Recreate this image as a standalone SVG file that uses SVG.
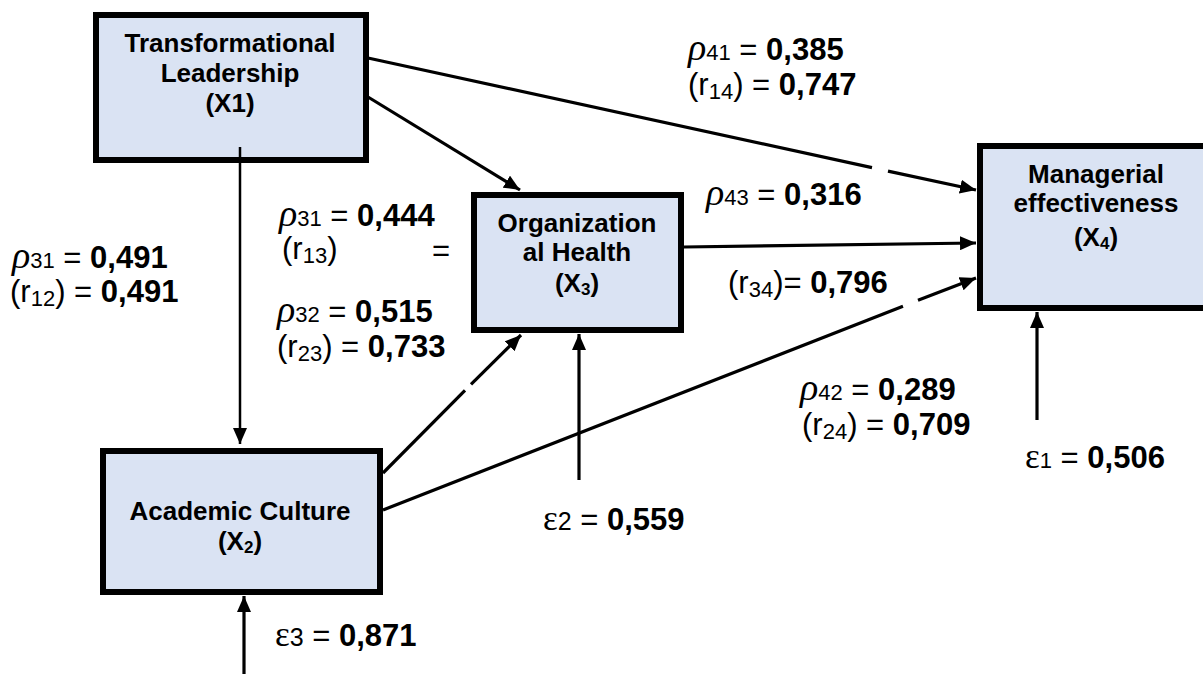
<svg xmlns="http://www.w3.org/2000/svg" width="1203" height="674" viewBox="0 0 1203 674">
<style>
.box{fill:#dae3f3;stroke:#000;stroke-width:6}
.nt{font-family:"Liberation Sans",Arial,sans-serif;font-weight:bold;font-size:26px;text-anchor:middle;fill:#000}
.lab{font-family:"Liberation Sans",Arial,sans-serif;font-size:31px;fill:#000}
.b{font-weight:bold}
.sm{font-size:22px}
.rho{font-family:"Liberation Serif","DejaVu Serif",serif;font-style:italic;font-size:38px}
.eps{font-family:"Liberation Serif","DejaVu Serif",serif;font-size:35px}
.ln{stroke:#000;stroke-width:3.2;fill:none}
.thin{stroke-width:2.5}
.arr{marker-end:url(#ah)}
</style>
<defs>
<marker id="ah" viewBox="0 0 16 14" refX="16" refY="7" markerWidth="16" markerHeight="14" markerUnits="userSpaceOnUse" orient="auto">
<path d="M0,0 L16,7 L0,14 z" fill="#000"/>
</marker>
</defs>

<g id="node-x1">
<rect class="box" x="96" y="15" width="270" height="145"/>
<text class="nt" x="230" y="52">Transformational</text>
<text class="nt" x="230" y="82">Leadership</text>
<text class="nt" x="230" y="112">(X1)</text>
</g>

<g id="node-x3">
<rect class="box" x="474" y="195" width="207" height="135"/>
<text class="nt" x="577" y="232">Organization</text>
<text class="nt" x="577" y="261">al Health</text>
<text class="nt" x="577" y="292">(X<tspan font-size="17px" dy="3">3</tspan><tspan dy="-3">)</tspan></text>
</g>

<g id="node-x4">
<rect class="box" x="980" y="146" width="240" height="162"/>
<text class="nt" x="1096" y="183">Managerial</text>
<text class="nt" x="1096" y="212">effectiveness</text>
<text class="nt" x="1096" y="246">(X<tspan font-size="17px" dy="3">4</tspan><tspan dy="-3">)</tspan></text>
</g>

<g id="node-x2">
<rect class="box" x="103" y="451" width="277" height="141"/>
<text class="nt" x="240" y="520">Academic Culture</text>
<text class="nt" x="240" y="550">(X<tspan font-size="17px" dy="3">2</tspan><tspan dy="-3">)</tspan></text>
</g>

<g id="connectors">
<line class="ln thin arr" x1="240" y1="147" x2="240" y2="444"/>
<line class="ln arr" x1="368" y1="97" x2="520" y2="190"/>
<line class="ln" x1="368" y1="58" x2="872" y2="167.6"/>
<line class="ln arr" x1="888" y1="171.1" x2="976" y2="190"/>
<line class="ln arr" x1="684" y1="247" x2="976" y2="243"/>
<line class="ln" x1="383" y1="510" x2="903" y2="306.2"/>
<line class="ln arr" x1="918" y1="300.3" x2="976" y2="278"/>
<line class="ln" x1="383" y1="473" x2="465" y2="390.4"/>
<line class="ln arr" x1="471" y1="384.4" x2="521" y2="335"/>
<line class="ln arr" x1="579" y1="480" x2="579" y2="334"/>
<line class="ln arr" x1="1037" y1="420" x2="1037" y2="312"/>
<line class="ln arr" x1="244" y1="674" x2="244" y2="596"/>
</g>

<g id="labels">
<text class="lab" x="688" y="60"><tspan class="rho">ρ</tspan><tspan class="sm">41</tspan> = <tspan class="b">0,385</tspan></text>
<text class="lab" x="688" y="95">(r<tspan class="sm" dy="4">14</tspan><tspan dy="-4">) = </tspan><tspan class="b">0,747</tspan></text>

<text class="lab" x="706" y="205"><tspan class="rho">ρ</tspan><tspan class="sm">43</tspan> = <tspan class="b">0,316</tspan></text>

<text class="lab" x="279" y="226"><tspan class="rho">ρ</tspan><tspan class="sm">31</tspan> = <tspan class="b">0,444</tspan></text>
<text class="lab" x="282" y="259">(r<tspan class="sm" dy="4">13</tspan><tspan dy="-4">)</tspan></text>
<text class="lab" x="432" y="261">=</text>

<text class="lab" x="277" y="322"><tspan class="rho">ρ</tspan><tspan class="sm">32</tspan> = <tspan class="b">0,515</tspan></text>
<text class="lab" x="277" y="357">(r<tspan class="sm" dy="4">23</tspan><tspan dy="-4">) = </tspan><tspan class="b">0,733</tspan></text>

<text class="lab" x="12" y="268"><tspan class="rho">ρ</tspan><tspan class="sm">31</tspan> = <tspan class="b">0,491</tspan></text>
<text class="lab" x="10" y="302">(r<tspan class="sm" dy="4">12</tspan><tspan dy="-4">) = </tspan><tspan class="b">0,491</tspan></text>

<text class="lab" x="728" y="293">(r<tspan class="sm" dy="4">34</tspan><tspan dy="-4">)= </tspan><tspan class="b">0,796</tspan></text>

<text class="lab" x="800" y="400"><tspan class="rho">ρ</tspan><tspan class="sm">42</tspan> = <tspan class="b">0,289</tspan></text>
<text class="lab" x="802" y="435">(r<tspan class="sm" dy="4">24</tspan><tspan dy="-4">) = </tspan><tspan class="b">0,709</tspan></text>

<text class="lab" x="1025" y="468"><tspan class="eps">ε</tspan><tspan class="sm">1</tspan> = <tspan class="b">0,506</tspan></text>
<text class="lab" x="543" y="530"><tspan class="eps">ε</tspan><tspan font-size="25px">2</tspan> = <tspan class="b">0,559</tspan></text>
<text class="lab" x="275" y="646"><tspan class="eps">ε</tspan><tspan font-size="25px">3</tspan> = <tspan class="b">0,871</tspan></text>
</g>
</svg>
